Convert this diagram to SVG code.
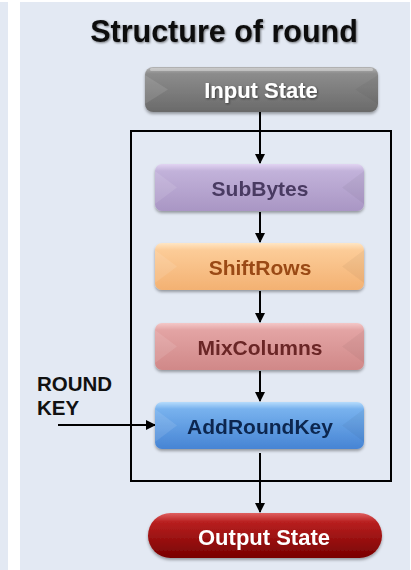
<svg xmlns="http://www.w3.org/2000/svg" width="411" height="570" viewBox="0 0 411 570">
<defs>
<style>
.t{font-family:"Liberation Sans",Arial,sans-serif;font-weight:bold;text-anchor:middle}
.lbl{font-family:"Liberation Sans",Arial,sans-serif;font-weight:bold;font-size:20.5px;fill:#111}
.conn{stroke:#000;stroke-width:2;fill:none}
.hl{fill:#fff;opacity:0.35}
.facetL{fill:#fff;opacity:0.10}
.facetR{fill:#000;opacity:0.04}
</style>
<filter id="sh" x="-10%" y="-20%" width="120%" height="150%">
<feDropShadow dx="0" dy="2" stdDeviation="1.5" flood-color="#000" flood-opacity="0.35"/>
</filter>
<filter id="ts" x="-10%" y="-30%" width="120%" height="160%">
<feDropShadow dx="1" dy="1" stdDeviation="0.8" flood-color="#000" flood-opacity="0.5"/>
</filter>
<linearGradient id="gGray" x1="0" y1="0" x2="0" y2="1">
<stop offset="0" stop-color="#b4b4b4"/><stop offset="0.15" stop-color="#8c8c8c"/><stop offset="1" stop-color="#6a6a6a"/>
</linearGradient>
<linearGradient id="gPurple" x1="0" y1="0" x2="0" y2="1">
<stop offset="0" stop-color="#e2d4f2"/><stop offset="0.15" stop-color="#c2b2da"/><stop offset="1" stop-color="#a996c4"/>
</linearGradient>
<linearGradient id="gOrange" x1="0" y1="0" x2="0" y2="1">
<stop offset="0" stop-color="#ffe6c4"/><stop offset="0.15" stop-color="#fccc98"/><stop offset="1" stop-color="#f3b172"/>
</linearGradient>
<linearGradient id="gPink" x1="0" y1="0" x2="0" y2="1">
<stop offset="0" stop-color="#f4c8c8"/><stop offset="0.15" stop-color="#e3a4a4"/><stop offset="1" stop-color="#d08888"/>
</linearGradient>
<linearGradient id="gBlue" x1="0" y1="0" x2="0" y2="1">
<stop offset="0" stop-color="#b6dcfc"/><stop offset="0.15" stop-color="#78b2ee"/><stop offset="1" stop-color="#4684d4"/>
</linearGradient>
<linearGradient id="gRed" x1="0" y1="0" x2="0" y2="1">
<stop offset="0" stop-color="#e06060"/><stop offset="0.2" stop-color="#b82020"/><stop offset="1" stop-color="#780000"/>
</linearGradient>
<marker id="ah" markerWidth="10" markerHeight="10" refX="9" refY="5" orient="auto" markerUnits="userSpaceOnUse">
<path d="M0,0 L10,5 L0,10 Z" fill="#000"/>
</marker>
</defs>

<rect x="0" y="0" width="411" height="570" fill="#e3e9f3"/>
<rect x="8" y="0" width="12" height="570" fill="#ffffff"/>
<rect x="0" y="0" width="411" height="2" fill="#ffffff"/>
<rect x="410" y="0" width="1" height="570" fill="#ffffff"/>

<text class="t" x="224" y="42" font-size="30.5" fill="#111" filter="url(#ts)">Structure of round</text>

<g id="round-frame">
<rect x="131" y="131" width="260" height="350" fill="none" stroke="#000" stroke-width="2"/>
</g>

<g id="round-key-label">
<text class="lbl" x="37" y="391">ROUND</text>
<text class="lbl" x="37" y="415">KEY</text>
</g>

<g id="connectors">
<line class="conn" x1="260" y1="112" x2="260" y2="163" marker-end="url(#ah)"/>
<line class="conn" x1="260" y1="212" x2="260" y2="242" marker-end="url(#ah)"/>
<line class="conn" x1="260" y1="291" x2="260" y2="322" marker-end="url(#ah)"/>
<line class="conn" x1="260" y1="371" x2="260" y2="401" marker-end="url(#ah)"/>
<line class="conn" x1="260" y1="453" x2="260" y2="512" marker-end="url(#ah)"/>
<line class="conn" x1="58" y1="425" x2="155" y2="425" marker-end="url(#ah)"/>
</g>

<g id="input-state" filter="url(#sh)">
<rect x="145" y="67" width="233" height="45" rx="8" fill="url(#gGray)"/>
<path class="facetL" d="M145,75 L168,89.5 L145,104 Z"/>
<path class="facetR" d="M378,75 L355,89.5 L378,104 Z"/>
<rect class="hl" x="150" y="68" width="223" height="3" rx="1.5"/>
<text class="t" x="261" y="98" font-size="22" fill="#fff" filter="url(#ts)">Input State</text>
</g>

<g id="subbytes" filter="url(#sh)">
<rect x="155" y="164" width="209" height="47" rx="7" fill="url(#gPurple)"/>
<path class="facetL" d="M155,171 L177,187.5 L155,204 Z"/>
<path class="facetR" d="M364,171 L342,187.5 L364,204 Z"/>
<text class="t" x="260" y="196" font-size="21" fill="#4a3a62">SubBytes</text>
</g>

<g id="shiftrows" filter="url(#sh)">
<rect x="155" y="243" width="209" height="47" rx="7" fill="url(#gOrange)"/>
<path class="facetL" d="M155,250 L177,266.5 L155,283 Z"/>
<path class="facetR" d="M364,250 L342,266.5 L364,283 Z"/>
<text class="t" x="260" y="275" font-size="21" fill="#9a4a12">ShiftRows</text>
</g>

<g id="mixcolumns" filter="url(#sh)">
<rect x="155" y="323" width="209" height="47" rx="7" fill="url(#gPink)"/>
<path class="facetL" d="M155,330 L177,346.5 L155,363 Z"/>
<path class="facetR" d="M364,330 L342,346.5 L364,363 Z"/>
<text class="t" x="260" y="355" font-size="21" fill="#6a2626">MixColumns</text>
</g>

<g id="addroundkey" filter="url(#sh)">
<rect x="155" y="402" width="209" height="47" rx="7" fill="url(#gBlue)"/>
<path class="facetL" d="M155,409 L177,425.5 L155,442 Z"/>
<path class="facetR" d="M364,409 L342,425.5 L364,442 Z"/>
<text class="t" x="260" y="434" font-size="21" fill="#0c2850">AddRoundKey</text>
</g>

<g id="output-state" filter="url(#sh)">
<rect x="148" y="513" width="234" height="45" rx="22.5" fill="url(#gRed)"/>
<text class="t" x="264" y="545" font-size="22" fill="#fff">Output State</text>
</g>
</svg>
